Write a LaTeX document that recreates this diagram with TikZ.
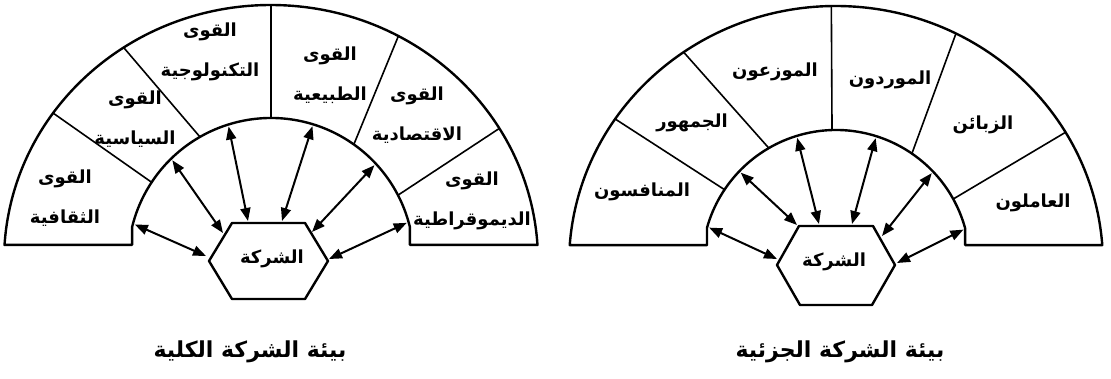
\documentclass[tikz,border=0pt]{standalone}
\usepackage{fontspec}
\newfontfamily\arabicfont[Script=Arabic]{DejaVu Sans}
\TeXXeTstate=1
\usetikzlibrary{arrows.meta}
\begin{document}
\begin{tikzpicture}[x=1pt,y=1pt,
  outline/.style={line width=2.4pt, line join=round},
  divider/.style={line width=1.6pt},
  link/.style={line width=2pt, {Triangle[length=13pt,width=10pt]}-{Triangle[length=13pt,width=10pt]}},
  lbl/.style={font={\arabicfont\bfseries\fontsize{18}{40}\selectfont}, align=center, inner sep=0pt},
  ttl/.style={font={\arabicfont\bfseries\fontsize{22}{26}\selectfont}, inner sep=0pt}]
\useasboundingbox (0,0) rectangle (1111,378);

% ================= LEFT DIAGRAM =================
\coordinate (Lc) at (271,117);
\coordinate (Lh) at (268,117);
\path (Lc) ++(176.4:267 and 256) coordinate (LoL);
\path (Lc) ++(3.6:267 and 256) coordinate (LoR);
\path (Lc) ++(166.25:143) coordinate (LiL);
\path (Lc) ++(13.75:143) coordinate (LiR);
\draw[outline] (LoL) arc[start angle=176.4, end angle=3.6, x radius=267, y radius=256]
  -- (LiR |- LoR) -- (LiR) arc[start angle=13.75, end angle=166.25, radius=143]
  -- (LiL |- LoL) -- cycle;
% dividers
\path (Lc) ++(144.7:267 and 256) coordinate (Ld1o) (Lc) ++(146.6:143) coordinate (Ld1i);
\path (Lc) ++(123.5:267 and 256) coordinate (Ld2o) (Lc) ++(119.8:143) coordinate (Ld2i);
\path (Lc) ++(90:267 and 256) coordinate (Ld3o) (Lc) ++(90:143) coordinate (Ld3i);
\path (Lc) ++(61.5:267 and 256) coordinate (Ld4o) (Lc) ++(54.6:143) coordinate (Ld4i);
\path (Lc) ++(31.2:267 and 256) coordinate (Ld5o) (Lc) ++(27.4:143) coordinate (Ld5i);
\draw[divider] (Ld1o) -- (Ld1i);
\draw[divider] (Ld2o) -- (Ld2i);
\draw[divider] (Ld3o) -- (Ld3i);
\draw[divider] (Ld4o) -- (Ld4i);
\draw[divider] (Ld5o) -- (Ld5i);
% hexagon
\draw[outline] (Lh) ++(-59,0) -- ++(23,38) -- ++(73,0) -- ++(23,-38) -- ++(-23,-38) -- ++(-73,0) -- cycle;
\node[lbl] (Lfirm) at (272,119) {\beginR الشركة\endR};
% arrow end points
\path (Lc) ++(165:141) coordinate (La1) (Lh) ++(-62,5) coordinate (Lb1);
\path (Lc) ++(134.4:141) coordinate (La2) (Lh) ++(-45,28) coordinate (Lb2);
\path (Lc) ++(107.5:141) coordinate (La3) (Lh) ++(-20,40) coordinate (Lb3);
\path (Lc) ++(72.9:141) coordinate (La4) (Lh) ++(14,40) coordinate (Lb4);
\path (Lc) ++(42.8:141) coordinate (La5) (Lh) ++(44,29) coordinate (Lb5);
\path (Lc) ++(15.7:141) coordinate (La6) (Lh) ++(61,2) coordinate (Lb6);
\draw[link] (La1) -- (Lb1);
\draw[link] (La2) -- (Lb2);
\draw[link] (La3) -- (Lb3);
\draw[link] (La4) -- (Lb4);
\draw[link] (La5) -- (Lb5);
\draw[link] (La6) -- (Lb6);
% labels
\node[lbl] (Lt1) at (65,180) {\beginR القوى\endR\\\beginR الثقافية\endR};
\node[lbl] (Lt2) at (135,259) {\beginR القوى\endR\\\beginR السياسية\endR};
\node[lbl] (Lt3) at (210,326) {\beginR القوى\endR\\\beginR التكنولوجية\endR};
\node[lbl] (Lt4) at (330,303) {\beginR القوى\endR\\\beginR الطبيعية\endR};
\node[lbl] (Lt5) at (417,263) {\beginR القوى\endR\\\beginR الاقتصادية\endR};
\node[lbl] (Lt6) at (472,177) {\beginR القوى\endR\\\beginR الديموقراطية\endR};
\node[ttl] (Ltitle) at (250,26) {\beginR بيئة الشركة الكلية\endR};

% ================= RIGHT DIAGRAM =================
\coordinate (Rc) at (836,114);
\coordinate (Rh) at (836,113);
\path (Rc) ++(175.8:267 and 258) coordinate (RoL);
\path (Rc) ++(4.2:267 and 258) coordinate (RoR);
\path (Rc) ++(164.4:134) coordinate (RiL);
\path (Rc) ++(15.6:134) coordinate (RiR);
\draw[outline] (RoL) arc[start angle=175.8, end angle=4.2, x radius=267, y radius=258]
  -- (RiR |- RoR) -- (RiR) arc[start angle=15.6, end angle=164.4, radius=134]
  -- (RiL |- RoL) -- cycle;
% dividers
\path (Rc) ++(145.8:267 and 258) coordinate (Rd1o) (Rc) ++(146.3:134) coordinate (Rd1i);
\path (Rc) ++(124.8:267 and 258) coordinate (Rd2o) (Rc) ++(120.1:134) coordinate (Rd2i);
\path (Rc) ++(91:267 and 258) coordinate (Rd3o) (Rc) ++(91.7:134) coordinate (Rd3i);
\path (Rc) ++(63.3:267 and 258) coordinate (Rd4o) (Rc) ++(55.5:134) coordinate (Rd4i);
\path (Rc) ++(30.7:267 and 258) coordinate (Rd5o) (Rc) ++(29:134) coordinate (Rd5i);
\draw[divider] (Rd1o) -- (Rd1i);
\draw[divider] (Rd2o) -- (Rd2i);
\draw[divider] (Rd3o) -- (Rd3i);
\draw[divider] (Rd4o) -- (Rd4i);
\draw[divider] (Rd5o) -- (Rd5i);
% hexagon
\draw[outline] (Rh) ++(-59,0) -- ++(22,39) -- ++(74,0) -- ++(22,-39) -- ++(-23,-40) -- ++(-72,0) -- cycle;
\node[lbl] (Rfirm) at (834,116) {\beginR الشركة\endR};
% arrow end points
\path (Rc) ++(164:132) coordinate (Ra1) (Rh) ++(-59,6) coordinate (Rb1);
\path (Rc) ++(136.2:132) coordinate (Ra2) (Rh) ++(-39,40) coordinate (Rb2);
\path (Rc) ++(107.1:132) coordinate (Ra3) (Rh) ++(-17,41) coordinate (Rb3);
\path (Rc) ++(72.5:132) coordinate (Ra4) (Rh) ++(16,41) coordinate (Rb4);
\path (Rc) ++(43.5:132) coordinate (Ra5) (Rh) ++(46,29) coordinate (Rb5);
\path (Rc) ++(15.1:132) coordinate (Ra6) (Rh) ++(61,2) coordinate (Rb6);
\draw[link] (Ra1) -- (Rb1);
\draw[link] (Ra2) -- (Rb2);
\draw[link] (Ra3) -- (Rb3);
\draw[link] (Ra4) -- (Rb4);
\draw[link] (Ra5) -- (Rb5);
\draw[link] (Ra6) -- (Rb6);
% labels
\node[lbl] (Rt1) at (642,186) {\beginR المنافسون\endR};
\node[lbl] (Rt2) at (692,255) {\beginR الجمهور\endR};
\node[lbl] (Rt3) at (775,306) {\beginR الموزعون\endR};
\node[lbl] (Rt4) at (890,298) {\beginR الموردون\endR};
\node[lbl] (Rt5) at (983,253) {\beginR الزبائن\endR};
\node[lbl] (Rt6) at (1033,175) {\beginR العاملون\endR};
\node[ttl] (Rtitle) at (840,26) {\beginR بيئة الشركة الجزئية\endR};
\end{tikzpicture}
\end{document}
